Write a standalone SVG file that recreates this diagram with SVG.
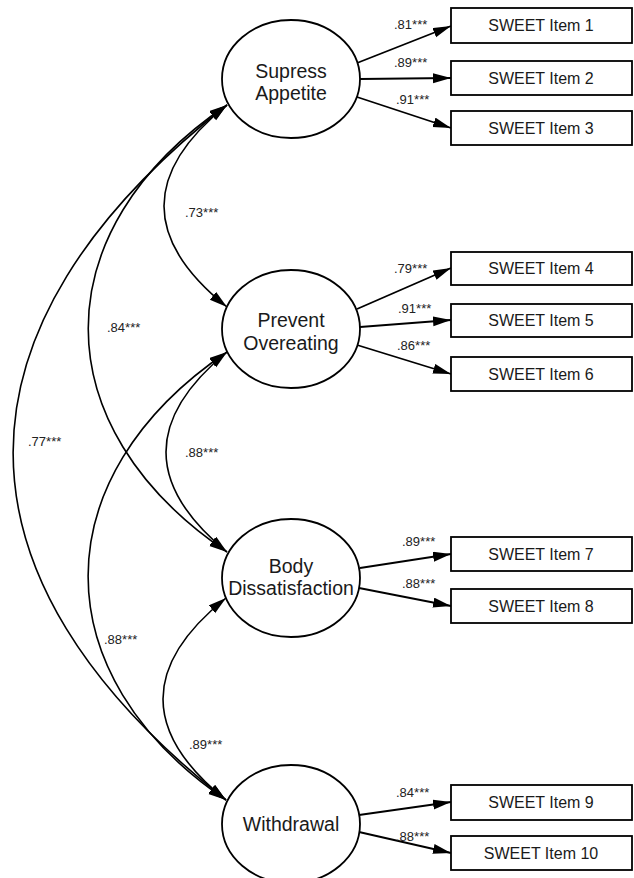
<svg xmlns="http://www.w3.org/2000/svg" width="634" height="878" viewBox="0 0 634 878">
<style>
.node ellipse{fill:#fff;stroke:#000;stroke-width:1.8}
.node rect{fill:#fff;stroke:#000;stroke-width:1.8}
.lt{font-family:"Liberation Sans",Arial,sans-serif;font-size:19.5px;fill:#1a1a1a;text-anchor:middle}
.bt{font-family:"Liberation Sans",Arial,sans-serif;font-size:16px;fill:#1a1a1a;text-anchor:middle}
.lab{font-family:"Liberation Sans",Arial,sans-serif;font-size:13px;fill:#222}
.ln{fill:none;stroke:#000;stroke-width:1.8;marker-end:url(#ah)}
.arc{fill:none;stroke:#000;stroke-width:1.6;marker-start:url(#ah);marker-end:url(#ah)}
</style>
<defs>
<marker id="ah" markerUnits="userSpaceOnUse" markerWidth="20" markerHeight="12" refX="18" refY="5" orient="auto-start-reverse" viewBox="0 0 20 12">
<path d="M0,0 L18,5 L0,10 z" fill="#000"/>
</marker>
</defs>
<rect width="634" height="878" fill="#fff"/>
<g id="connectors">
<path class="ln" d="M357,63 L451,26"/>
<path class="ln" d="M360,79 L451,78"/>
<path class="ln" d="M357,97 L451,128"/>
<path class="ln" d="M357,309 L451,268"/>
<path class="ln" d="M360,327 L451,320"/>
<path class="ln" d="M357,345 L451,374"/>
<path class="ln" d="M360,568 L451,554"/>
<path class="ln" d="M359,588 L451,606"/>
<path class="ln" d="M359,815 L451,802"/>
<path class="ln" d="M359,832 L451,853"/>
<path class="arc" d="M227,105 Q101,206 227,307"/>
<path class="arc" d="M227,352 Q105,452 227,552"/>
<path class="arc" d="M226,598 Q100,699 226,800"/>
<path class="arc" d="M227,105 C42,230 42,427 227,552"/>
<path class="arc" d="M227,352 C42,477 42,675 226,800"/>
<path class="arc" d="M227,105 C-58,328 -58,577 226,800"/>
</g>
<g id="labels">
<text class="lab" x="394" y="29">.81***</text>
<text class="lab" x="394" y="67">.89***</text>
<text class="lab" x="396" y="104">.91***</text>
<text class="lab" x="394" y="273">.79***</text>
<text class="lab" x="398" y="313">.91***</text>
<text class="lab" x="397" y="350">.86***</text>
<text class="lab" x="402" y="546">.89***</text>
<text class="lab" x="402" y="588">.88***</text>
<text class="lab" x="396" y="797">.84***</text>
<text class="lab" x="396" y="841">.88***</text>
<text class="lab" x="185" y="217">.73***</text>
<text class="lab" x="107" y="332">.84***</text>
<text class="lab" x="28" y="446">.77***</text>
<text class="lab" x="185" y="457">.88***</text>
<text class="lab" x="104" y="644">.88***</text>
<text class="lab" x="189" y="749">.89***</text>
</g>
<g id="supress" class="node"><ellipse cx="291" cy="79" rx="69" ry="59"/><text class="lt" x="291" y="78">Supress</text><text class="lt" x="291" y="100">Appetite</text></g>
<g id="prevent" class="node"><ellipse cx="291" cy="329" rx="69" ry="59"/><text class="lt" x="291" y="327">Prevent</text><text class="lt" x="291" y="350">Overeating</text></g>
<g id="body" class="node"><ellipse cx="291" cy="578" rx="69" ry="59"/><text class="lt" x="291" y="573">Body</text><text class="lt" x="291" y="595">Dissatisfaction</text></g>
<g id="withdrawal" class="node"><ellipse cx="291" cy="824" rx="69" ry="59"/><text class="lt" x="291" y="831">Withdrawal</text></g>
<g id="item1" class="node"><rect x="451" y="8" width="181" height="35"/><text class="bt" x="541" y="31">SWEET Item 1</text></g>
<g id="item2" class="node"><rect x="451" y="61" width="181" height="34"/><text class="bt" x="541" y="84">SWEET Item 2</text></g>
<g id="item3" class="node"><rect x="451" y="111" width="181" height="34"/><text class="bt" x="541" y="134">SWEET Item 3</text></g>
<g id="item4" class="node"><rect x="451" y="252" width="181" height="33"/><text class="bt" x="541" y="274">SWEET Item 4</text></g>
<g id="item5" class="node"><rect x="451" y="304" width="181" height="33"/><text class="bt" x="541" y="326">SWEET Item 5</text></g>
<g id="item6" class="node"><rect x="451" y="357" width="181" height="34"/><text class="bt" x="541" y="380">SWEET Item 6</text></g>
<g id="item7" class="node"><rect x="451" y="537" width="181" height="34"/><text class="bt" x="541" y="560">SWEET Item 7</text></g>
<g id="item8" class="node"><rect x="451" y="589" width="181" height="34"/><text class="bt" x="541" y="612">SWEET Item 8</text></g>
<g id="item9" class="node"><rect x="451" y="785" width="181" height="35"/><text class="bt" x="541" y="808">SWEET Item 9</text></g>
<g id="item10" class="node"><rect x="451" y="836" width="181" height="34"/><text class="bt" x="541" y="859">SWEET Item 10</text></g>
</svg>
